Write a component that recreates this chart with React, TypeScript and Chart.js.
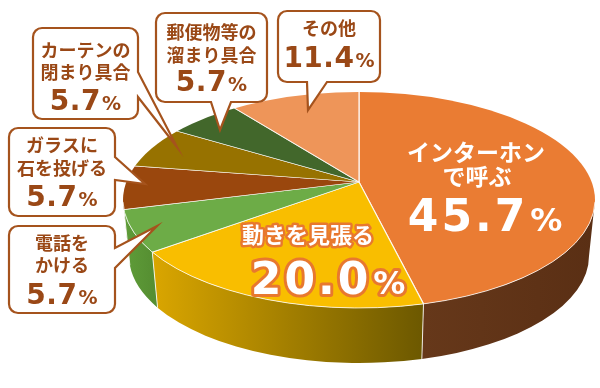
import { useEffect, useRef } from "react";
import { Chart, registerables } from "chart.js";

Chart.register(...registerables);

// ---- data ----
const categories = [
  "インターホンで呼ぶ",
  "動きを見張る",
  "電話をかける",
  "ガラスに石を投げる",
  "カーテンの閉まり具合",
  "郵便物等の溜まり具合",
  "その他",
];
const labelLines = [
  ["インターホン", "で呼ぶ"],
  ["動きを見張る"],
  ["電話を", "かける"],
  ["ガラスに", "石を投げる"],
  ["カーテンの", "閉まり具合"],
  ["郵便物等の", "溜まり具合"],
  ["その他"],
];
const shares = [45.7, 20.0, 5.7, 5.7, 5.7, 5.7, 11.4];

// ---- styles ----
const topColors = ["#EA7C33", "#F9BE00", "#6DAC47", "#9A470D", "#977200", "#42672B", "#EE9559"];
const sideColors = [
  ["#66381A", "#5A2F14"],
  ["#DAA600", "#6C5800"],
  ["#5F9D39", "#568F32"],
  ["#84400C", "#7A3A0B"],
  ["#806000", "#6E5300"],
  ["#38582A", "#304C22"],
  ["#C87A48", "#B86E40"],
];
const JP = '"Noto Sans CJK JP", "Noto Sans", sans-serif';
const NUM = '"DejaVu Sans", "Noto Sans", sans-serif';
const BROWN_TEXT = "#9A4816";
const BROWN_BORDER = "#A5531D";

// ellipse geometry of the top face (P) and the bottom rim
const P = { cx: 359, cy: 200, rx: 236, ry: 108, bcy: 256, brx: 230, bry: 107 };
// perspective-ish vertex of the pie (slices radiate from here, clipped to P)
const PV = { cx: 359, cy: 182, rx: 255, ry: 132 };

type Callout = {
  idx: number;
  x: number; y: number; w: number; h: number;
  side: "right" | "bottom";
  b1: number; b2: number;
  tip: [number, number];
  lineYs: number[];
  pctY: number;
};

const callouts: Callout[] = [
  { idx: 2, x: 9, y: 226, w: 106, h: 87, side: "right", b1: 248, b2: 268, tip: [157, 226], lineYs: [243, 265], pctY: 294 },
  { idx: 3, x: 9, y: 128, w: 106, h: 88, side: "right", b1: 157, b2: 180, tip: [145, 184], lineYs: [145, 168], pctY: 196 },
  { idx: 4, x: 33, y: 28, w: 105, h: 91, side: "right", b1: 72, b2: 97, tip: [177, 147], lineYs: [50, 72], pctY: 100 },
  { idx: 5, x: 156, y: 13, w: 111, h: 89, side: "bottom", b1: 211, b2: 231, tip: [220, 130], lineYs: [32, 55], pctY: 81 },
  { idx: 6, x: 278, y: 11, w: 102, h: 71, side: "bottom", b1: 307, b2: 327, tip: [308, 110], lineYs: [28], pctY: 57 },
];

// where a slice boundary at chart angle theta meets the rim (ellipse parameter)
function rimParam(theta: number) {
  const dx = PV.rx * Math.cos(theta);
  const dy = PV.ry * Math.sin(theta);
  const oy = PV.cy - P.cy;
  const A = (dx * dx) / (P.rx * P.rx) + (dy * dy) / (P.ry * P.ry);
  const B = (2 * dy * oy) / (P.ry * P.ry);
  const C = (oy * oy) / (P.ry * P.ry) - 1;
  const s = (-B + Math.sqrt(B * B - 4 * A * C)) / (2 * A);
  const px = s * dx;
  const py = oy + s * dy;
  let t = Math.atan2(py / P.ry, px / P.rx);
  t += 2 * Math.PI * Math.round((theta - t) / (2 * Math.PI));
  return t;
}

function drawPct(
  ctx: CanvasRenderingContext2D,
  value: number,
  cx: number,
  cy: number,
  big: number,
  small: number,
  fill: string,
  spacing: number,
  stroke?: string,
  strokeW?: number
) {
  const num = value.toFixed(1);
  ctx.save();
  (ctx as any).letterSpacing = spacing + "px";
  ctx.font = `bold ${big}px ${NUM}`;
  const w1 = ctx.measureText(num).width;
  (ctx as any).letterSpacing = "0px";
  ctx.font = `bold ${small}px ${NUM}`;
  const w2 = ctx.measureText("%").width;
  const gap = big * 0.04;
  const total = w1 + gap + w2;
  const x0 = cx - total / 2;
  const base = cy + big * 0.365;
  ctx.textAlign = "left";
  ctx.textBaseline = "alphabetic";
  ctx.lineJoin = "round";
  const parts: [string, number, number, number][] = [
    [num, big, x0, spacing],
    ["%", small, x0 + w1 + gap, 0],
  ];
  for (const [t, size, x, sp] of parts) {
    (ctx as any).letterSpacing = sp + "px";
    ctx.font = `bold ${size}px ${NUM}`;
    if (stroke) {
      ctx.strokeStyle = stroke;
      ctx.lineWidth = strokeW || 4;
      ctx.strokeText(t, x, base);
    }
    ctx.fillStyle = fill;
    ctx.fillText(t, x, base);
  }
  ctx.restore();
}

function drawJP(
  ctx: CanvasRenderingContext2D,
  text: string,
  cx: number,
  cy: number,
  size: number,
  fill: string,
  stroke?: string,
  strokeW?: number
) {
  ctx.save();
  ctx.font = `bold ${size}px ${JP}`;
  ctx.textAlign = "center";
  ctx.textBaseline = "middle";
  ctx.lineJoin = "round";
  if (stroke) {
    ctx.strokeStyle = stroke;
    ctx.lineWidth = strokeW || 4;
    ctx.strokeText(text, cx, cy);
  }
  ctx.fillStyle = fill;
  ctx.fillText(text, cx, cy);
  ctx.restore();
}

function drawCallout(ctx: CanvasRenderingContext2D, c: Callout) {
  const { x, y, w, h, side, b1, b2, tip } = c;
  const r = 9;
  ctx.save();
  ctx.beginPath();
  ctx.moveTo(x + r, y);
  ctx.lineTo(x + w - r, y);
  ctx.arcTo(x + w, y, x + w, y + r, r);
  if (side === "right") {
    ctx.lineTo(x + w, b1);
    ctx.lineTo(tip[0], tip[1]);
    ctx.lineTo(x + w, b2);
  }
  ctx.lineTo(x + w, y + h - r);
  ctx.arcTo(x + w, y + h, x + w - r, y + h, r);
  if (side === "bottom") {
    ctx.lineTo(b2, y + h);
    ctx.lineTo(tip[0], tip[1]);
    ctx.lineTo(b1, y + h);
  }
  ctx.lineTo(x + r, y + h);
  ctx.arcTo(x, y + h, x, y + h - r, r);
  ctx.lineTo(x, y + r);
  ctx.arcTo(x, y, x + r, y, r);
  ctx.closePath();
  ctx.fillStyle = "#ffffff";
  ctx.fill();
  ctx.lineWidth = 2.2;
  ctx.strokeStyle = BROWN_BORDER;
  ctx.lineJoin = "miter";
  ctx.miterLimit = 20;
  ctx.stroke();
  ctx.restore();

  const cx = x + w / 2;
  labelLines[c.idx].forEach((t, k) => drawJP(ctx, t, cx, c.lineYs[k], 18, BROWN_TEXT));
  drawPct(ctx, shares[c.idx], cx, c.pctY, 28, 19, BROWN_TEXT, 0.5);
}

const pie3d = {
  id: "pie3d",
  beforeDatasetsDraw(chart: any) {
    const ctx: CanvasRenderingContext2D = chart.ctx;
    const meta = chart.getDatasetMeta(0);
    const arcs = meta.data as any[];
    ctx.save();
    // side walls (front half only)
    arcs.forEach((arc, i) => {
      const a = Math.max(rimParam(arc.startAngle), 0);
      const b = Math.min(rimParam(arc.endAngle), Math.PI);
      if (b <= a) return;
      ctx.beginPath();
      ctx.ellipse(P.cx, P.cy, P.rx, P.ry, 0, a, b);
      ctx.lineTo(P.cx + P.brx * Math.cos(b), P.bcy + P.bry * Math.sin(b));
      ctx.ellipse(P.cx, P.bcy, P.brx, P.bry, 0, b, a, true);
      ctx.closePath();
      const xl = P.cx + P.rx * Math.cos(b);
      const xr = P.cx + P.rx * Math.cos(a);
      const g = ctx.createLinearGradient(xl, 0, xr, 0);
      g.addColorStop(0, sideColors[i][0]);
      g.addColorStop(1, sideColors[i][1]);
      ctx.fillStyle = g;
      ctx.fill();
    });
    // separators on the side walls
    ctx.strokeStyle = "rgba(255,255,255,0.85)";
    ctx.lineWidth = 1;
    arcs.forEach((arc) => {
      const t = rimParam(arc.endAngle);
      if (t > 0.02 && t < Math.PI - 0.02) {
        ctx.beginPath();
        ctx.moveTo(P.cx + P.rx * Math.cos(t), P.cy + P.ry * Math.sin(t));
        ctx.lineTo(P.cx + P.brx * Math.cos(t), P.bcy + P.bry * Math.sin(t));
        ctx.stroke();
      }
    });
    // top face: clip to the rim ellipse, map the library's circle around the vertex
    ctx.beginPath();
    ctx.ellipse(P.cx, P.cy, P.rx, P.ry, 0, 0, Math.PI * 2);
    ctx.clip();
    const a0 = arcs[0];
    const R = a0.outerRadius;
    ctx.translate(PV.cx, PV.cy);
    ctx.scale(PV.rx / R, PV.ry / R);
    ctx.translate(-a0.x, -a0.y);
  },
  afterDatasetsDraw(chart: any) {
    const ctx: CanvasRenderingContext2D = chart.ctx;
    ctx.restore();
    // light rim along the front edge of the top face
    ctx.save();
    ctx.beginPath();
    ctx.ellipse(P.cx, P.cy, P.rx, P.ry, 0, 0.02, Math.PI - 0.02);
    ctx.strokeStyle = "rgba(255,255,255,0.75)";
    ctx.lineWidth = 1;
    ctx.stroke();
    ctx.restore();
  },
  afterDraw(chart: any) {
    const ctx: CanvasRenderingContext2D = chart.ctx;
    // inside labels
    drawJP(ctx, labelLines[0][0], 476, 152, 23, "#ffffff");
    drawJP(ctx, labelLines[0][1], 477, 176, 23, "#ffffff");
    drawPct(ctx, shares[0], 485, 215, 44, 32, "#ffffff", 3);
    drawJP(ctx, labelLines[1][0], 308, 235, 22, "#ffffff", "#E8782E", 5);
    drawPct(ctx, shares[1], 328, 278, 44, 32, "#ffffff", 3, "#E8782E", 6);
    callouts.forEach((c) => drawCallout(ctx, c));
  },
};

export default function App() {
  const ref = useRef<HTMLCanvasElement | null>(null);
  useEffect(() => {
    document.body.style.margin = "0";
    const canvas = ref.current!;
    const chart = new Chart(canvas, {
      type: "pie",
      data: {
        labels: categories,
        datasets: [
          {
            data: shares,
            backgroundColor: topColors,
            borderColor: "rgba(255,255,255,0.85)",
            borderWidth: 1,
            hoverOffset: 0,
          },
        ],
      },
      options: {
        responsive: false,
        animation: false,
        events: [],
        layout: { padding: 0 },
        plugins: {
          legend: { display: false },
          tooltip: { enabled: false },
        },
      },
      plugins: [pie3d],
    } as any);
    return () => chart.destroy();
  }, []);
  return (
    <div style={{ position: "absolute", left: 0, top: 0, width: 600, height: 388, background: "#fff" }}>
      <canvas ref={ref} width={600} height={388} style={{ display: "block", width: 600, height: 388 }} />
    </div>
  );
}
